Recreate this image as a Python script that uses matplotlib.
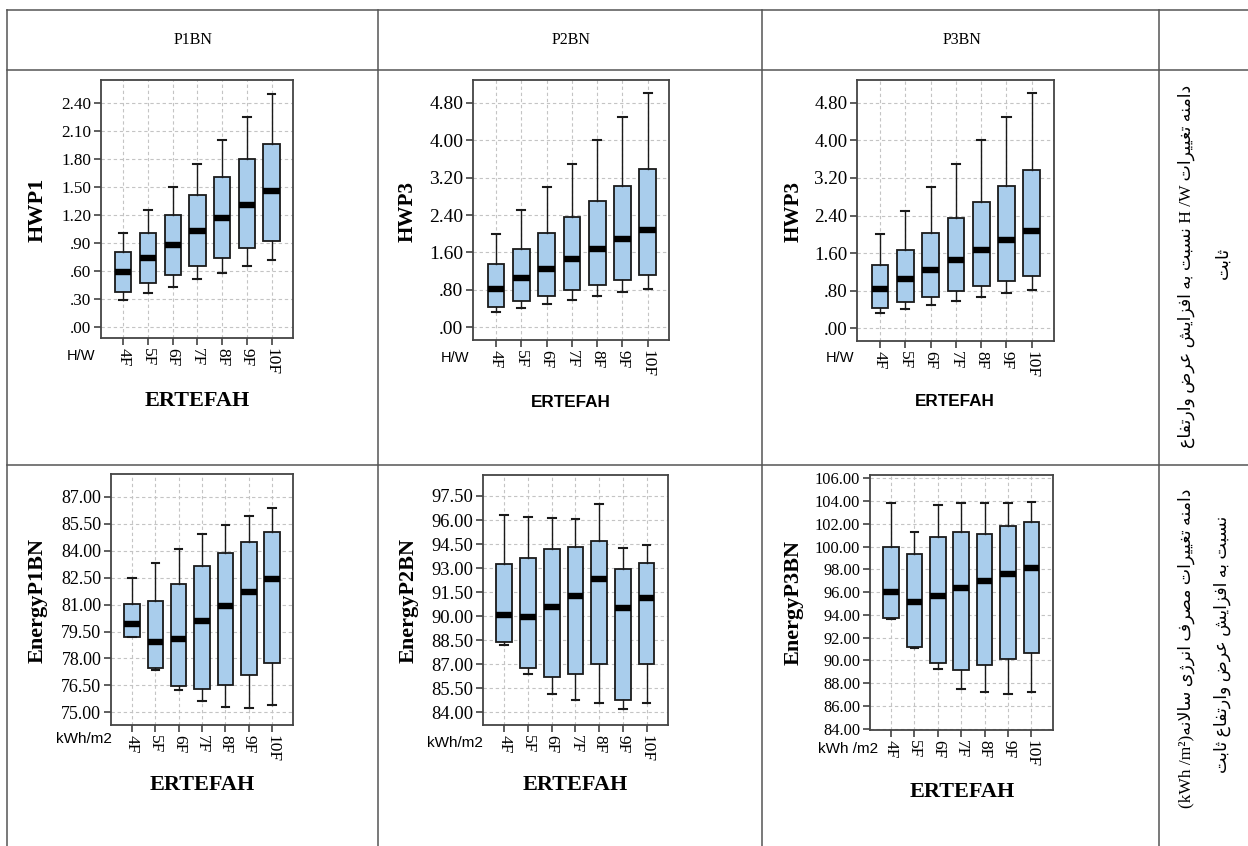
import matplotlib
matplotlib.use("Agg")
import matplotlib.pyplot as plt
from matplotlib.lines import Line2D

# ---------------- data ----------------
categories = ["4F", "5F", "6F", "7F", "8F", "9F", "10F"]

# HWP1 (P1BN)
hwp1_whislo = [0.29, 0.36, 0.43, 0.51, 0.58, 0.65, 0.72]
hwp1_q1 = [0.375, 0.47, 0.56, 0.65, 0.74, 0.84, 0.92]
hwp1_med = [0.59, 0.74, 0.88, 1.03, 1.17, 1.31, 1.46]
hwp1_q3 = [0.80, 1.00, 1.20, 1.41, 1.61, 1.80, 1.96]
hwp1_whishi = [1.00, 1.25, 1.50, 1.75, 2.00, 2.25, 2.50]

# HWP3 (P2BN and P3BN)
hwp3_whislo = [0.33, 0.41, 0.50, 0.58, 0.66, 0.75, 0.81]
hwp3_q1 = [0.44, 0.56, 0.66, 0.80, 0.90, 1.01, 1.12]
hwp3_med = [0.83, 1.05, 1.25, 1.45, 1.67, 1.88, 2.08]
hwp3_q3 = [1.35, 1.67, 2.02, 2.35, 2.69, 3.02, 3.38]
hwp3_whishi = [2.00, 2.50, 3.00, 3.50, 4.00, 4.50, 5.00]

# EnergyP1BN
e1_whislo = [79.17, 77.36, 76.25, 75.63, 75.28, 75.22, 75.41]
e1_q1 = [79.22, 77.49, 76.47, 76.28, 76.53, 77.07, 77.73]
e1_med = [79.91, 78.89, 79.07, 80.06, 80.90, 81.73, 82.42]
e1_q3 = [81.05, 81.21, 82.14, 83.17, 83.86, 84.51, 85.05]
e1_whishi = [82.48, 83.32, 84.10, 84.93, 85.42, 85.96, 86.40]

# EnergyP2BN
e2_whislo = [88.20, 86.39, 85.12, 84.77, 84.60, 84.19, 84.56]
e2_q1 = [88.37, 86.79, 86.23, 86.37, 87.00, 84.77, 87.00]
e2_med = [90.07, 89.97, 90.59, 91.26, 92.32, 90.53, 91.11]
e2_q3 = [93.26, 93.65, 94.17, 94.30, 94.69, 92.92, 93.30]
e2_whishi = [96.29, 96.17, 96.11, 96.07, 97.00, 94.24, 94.44]

# EnergyP3BN
e3_whislo = [93.65, 91.06, 89.24, 87.46, 87.19, 87.05, 87.19]
e3_q1 = [93.70, 91.15, 89.74, 89.16, 89.59, 90.09, 90.62]
e3_med = [96.04, 95.10, 95.66, 96.39, 96.98, 97.59, 98.09]
e3_q3 = [99.93, 99.35, 100.81, 101.25, 101.11, 101.81, 102.19]
e3_whishi = [103.86, 101.31, 103.65, 103.80, 103.86, 103.86, 103.95]

hw_ticks1 = [0.0, 0.3, 0.6, 0.9, 1.2, 1.5, 1.8, 2.1, 2.4]
hw_labels1 = [".00", ".30", ".60", ".90", "1.20", "1.50", "1.80", "2.10", "2.40"]
hw_ticks3 = [0.0, 0.8, 1.6, 2.4, 3.2, 4.0, 4.8]
hw_labels3 = [".00", ".80", "1.60", "2.40", "3.20", "4.00", "4.80"]
e1_ticks = [75.0, 76.5, 78.0, 79.5, 81.0, 82.5, 84.0, 85.5, 87.0]
e2_ticks = [84.0, 85.5, 87.0, 88.5, 90.0, 91.5, 93.0, 94.5, 96.0, 97.5]
e3_ticks = [84, 86, 88, 90, 92, 94, 96, 98, 100, 102, 104, 106]

headers = ["P1BN", "P2BN", "P3BN"]

# ---------------- Persian shaping helper ----------------
FORMS = {
    'ا': ('\uFE8D', '\uFE8E', None, None),
    'ب': ('\uFE8F', '\uFE90', '\uFE91', '\uFE92'),
    'ت': ('\uFE95', '\uFE96', '\uFE97', '\uFE98'),
    'ث': ('\uFE99', '\uFE9A', '\uFE9B', '\uFE9C'),
    'د': ('\uFEA9', '\uFEAA', None, None),
    'ر': ('\uFEAD', '\uFEAE', None, None),
    'ز': ('\uFEAF', '\uFEB0', None, None),
    'ژ': ('\uFB8A', '\uFB8B', None, None),
    'س': ('\uFEB1', '\uFEB2', '\uFEB3', '\uFEB4'),
    'ش': ('\uFEB5', '\uFEB6', '\uFEB7', '\uFEB8'),
    'ص': ('\uFEB9', '\uFEBA', '\uFEBB', '\uFEBC'),
    'ض': ('\uFEBD', '\uFEBE', '\uFEBF', '\uFEC0'),
    'ع': ('\uFEC9', '\uFECA', '\uFECB', '\uFECC'),
    'غ': ('\uFECD', '\uFECE', '\uFECF', '\uFED0'),
    'ف': ('\uFED1', '\uFED2', '\uFED3', '\uFED4'),
    'ل': ('\uFEDD', '\uFEDE', '\uFEDF', '\uFEE0'),
    'م': ('\uFEE1', '\uFEE2', '\uFEE3', '\uFEE4'),
    'ن': ('\uFEE5', '\uFEE6', '\uFEE7', '\uFEE8'),
    'ه': ('\uFEE9', '\uFEEA', '\uFEEB', '\uFEEC'),
    'و': ('\uFEED', '\uFEEE', None, None),
    'ی': ('\uFEEF', '\uFEF0', '\uFEF3', '\uFEF4'),
}


def _dual(c):
    return c in FORMS and FORMS[c][2] is not None


def shape_rtl(s):
    out = []
    n = len(s)
    i = 0
    while i < n:
        c = s[i]
        if c not in FORMS:
            out.append(c)
            i += 1
            continue
        prev = s[i - 1] if i > 0 else None
        cp = prev is not None and _dual(prev)
        if c == 'ل' and i + 1 < n and s[i + 1] == 'ا':
            out.append('\uFEFC' if cp else '\uFEFB')
            i += 2
            continue
        nxt = s[i + 1] if i + 1 < n else None
        cn = _dual(c) and nxt is not None and nxt in FORMS
        iso, fin, ini, med = FORMS[c]
        if cp and cn:
            out.append(med)
        elif cp:
            out.append(fin)
        elif cn:
            out.append(ini)
        else:
            out.append(iso)
        i += 1
    return ''.join(out)[::-1]


row1_line1 = shape_rtl(" نسبت به افزایش عرض وارتفاع") + "H /W" + shape_rtl("دامنه تغییرات ")
row1_line2 = shape_rtl("ثابت")
row2_line1 = "(kWh /m\u00b2)" + shape_rtl("دامنه تغییرات مصرف انرژی سالانه")
row2_line2 = shape_rtl("نسبت به افزایش عرض وارتفاع ثابت")

# ---------------- figure ----------------
W, H = 1248, 846
fig = plt.figure(figsize=(W / 100, H / 100), dpi=100)
fig.patch.set_facecolor("white")


def fx(x):
    return x / W


def fy(y):
    return 1 - y / H


def hline(y, x0, x1):
    fig.add_artist(Line2D([fx(x0), fx(x1)], [fy(y), fy(y)], color="#555555", lw=1.1))


def vline(x, y0, y1):
    fig.add_artist(Line2D([fx(x), fx(x)], [fy(y0), fy(y1)], color="#555555", lw=1.1))


# table
hline(10, 7, 1248)
hline(70, 7, 1248)
hline(465, 7, 1248)
for xv in [7, 378, 762, 1159]:
    vline(xv, 10, 846)

SERIF = ["Liberation Serif", "DejaVu Serif"]
SANS = ["Liberation Sans", "DejaVu Sans"]
MIXED = ["Liberation Serif", "DejaVu Sans"]

for htxt, hx in zip(headers, [193, 571, 962]):
    fig.text(fx(hx), fy(40), htxt, ha="center", va="center", fontsize=11.5, family=SERIF)

BOX_COLOR = "#A9CDEC"


def make_panel(rect, xlim, ylim, whislo, q1, med, q3, whishi, ticks, ticklabels, tick_fs):
    left, right, top, bottom = rect
    ax = fig.add_axes([fx(left), fy(bottom), (right - left) / W, (bottom - top) / H])
    stats = []
    for i in range(len(categories)):
        stats.append(dict(med=med[i], q1=q1[i], q3=q3[i], whislo=whislo[i],
                          whishi=whishi[i], fliers=[], label=categories[i]))
    ax.bxp(stats, positions=list(range(len(categories))), widths=0.66, capwidths=0.32,
           patch_artist=True, showfliers=False,
           boxprops=dict(facecolor=BOX_COLOR, edgecolor="#1a1a1a", linewidth=1.3),
           medianprops=dict(color="black", linewidth=4.6, solid_capstyle="butt"),
           whiskerprops=dict(color="#1a1a1a", linewidth=1.0),
           capprops=dict(color="#1a1a1a", linewidth=1.5))
    ax.set_xlim(*xlim)
    ax.set_ylim(*ylim)
    ax.set_yticks(ticks)
    ax.set_yticklabels(ticklabels, fontsize=tick_fs, family=SERIF)
    ax.set_xticks(list(range(len(categories))))
    ax.set_xticklabels(categories, rotation=-90, fontsize=12.5, family=SERIF, va="top", ha="center")
    ax.tick_params(axis="both", length=5, width=1.1, color="#333333", pad=2)
    ax.grid(True, linestyle=(0, (3, 2.5)), color="#c4c4c4", linewidth=0.8)
    ax.set_axisbelow(True)
    for sp in ax.spines.values():
        sp.set_color("#444444")
        sp.set_linewidth(1.3)
    return ax


# Row 1
make_panel((101, 293, 80, 338), (-0.9, 6.87), (-0.12, 2.645),
           hwp1_whislo, hwp1_q1, hwp1_med, hwp1_q3, hwp1_whishi, hw_ticks1, hw_labels1, 12.3)
make_panel((473, 669, 80, 340), (-0.91, 6.84), (-0.27, 5.285),
           hwp3_whislo, hwp3_q1, hwp3_med, hwp3_q3, hwp3_whishi, hw_ticks3, hw_labels3, 14.0)
make_panel((857, 1054, 80, 341), (-0.91, 6.88), (-0.27, 5.285),
           hwp3_whislo, hwp3_q1, hwp3_med, hwp3_q3, hwp3_whishi, hw_ticks3, hw_labels3, 13.6)
# Row 2
make_panel((111, 293, 474, 725), (-0.9, 6.89), (74.29, 88.28),
           e1_whislo, e1_q1, e1_med, e1_q3, e1_whishi, e1_ticks, ["%.2f" % t for t in e1_ticks], 13.0)
make_panel((483, 668, 475, 725), (-0.895, 6.9), (83.21, 98.81),
           e2_whislo, e2_q1, e2_med, e2_q3, e2_whishi, e2_ticks, ["%.2f" % t for t in e2_ticks], 13.3)
make_panel((870, 1053, 475, 730), (-0.895, 6.92), (83.88, 106.29),
           e3_whislo, e3_q1, e3_med, e3_q3, e3_whishi, e3_ticks, ["%.2f" % t for t in e3_ticks], 11.8)

# axis titles
def ftext(x, y, s, **kw):
    fig.text(fx(x), fy(y), s, ha="center", va="center", **kw)


ftext(38, 210, "HWP1", rotation=90, fontsize=16, fontweight="bold", family=SERIF)
ftext(408, 212, "HWP3", rotation=90, fontsize=15.2, fontweight="bold", family=SERIF)
ftext(794, 212, "HWP3", rotation=90, fontsize=15.2, fontweight="bold", family=SERIF)
ftext(38, 600, "EnergyP1BN", rotation=90, fontsize=16, fontweight="bold", family=SERIF)
ftext(409, 600, "EnergyP2BN", rotation=90, fontsize=16, fontweight="bold", family=SERIF)
ftext(794, 602, "EnergyP3BN", rotation=90, fontsize=16, fontweight="bold", family=SERIF)

ftext(197, 401, "ERTEFAH", fontsize=16, fontweight="bold", family=SERIF)
ftext(571, 402, "ERTEFAH", fontsize=12.3, fontweight="bold", family=SANS)
ftext(955, 401, "ERTEFAH", fontsize=12.3, fontweight="bold", family=SANS)
ftext(202, 785, "ERTEFAH", fontsize=16, fontweight="bold", family=SERIF)
ftext(575, 785, "ERTEFAH", fontsize=16, fontweight="bold", family=SERIF)
ftext(962, 792, "ERTEFAH", fontsize=16, fontweight="bold", family=SERIF)

ftext(81, 356, "H/W", fontsize=10.5, family=SANS)
ftext(455, 358, "H/W", fontsize=10.5, family=SANS)
ftext(840, 358, "H/W", fontsize=10.5, family=SANS)
ftext(84, 739, "kWh/m2", fontsize=11, family=SANS)
ftext(455, 743, "kWh/m2", fontsize=11, family=SANS)
ftext(848, 749, "kWh /m2", fontsize=11, family=SANS)

# Persian side notes
ftext(1186, 266, row1_line1, rotation=90, fontsize=12.5, family=MIXED)
ftext(1224, 263, row1_line2, rotation=90, fontsize=12.5, family=MIXED)
ftext(1186, 648, row2_line1, rotation=90, fontsize=12.5, family=MIXED)
ftext(1222, 644, row2_line2, rotation=90, fontsize=12.5, family=MIXED)

fig.savefig("out.png", dpi=100, facecolor="white")
